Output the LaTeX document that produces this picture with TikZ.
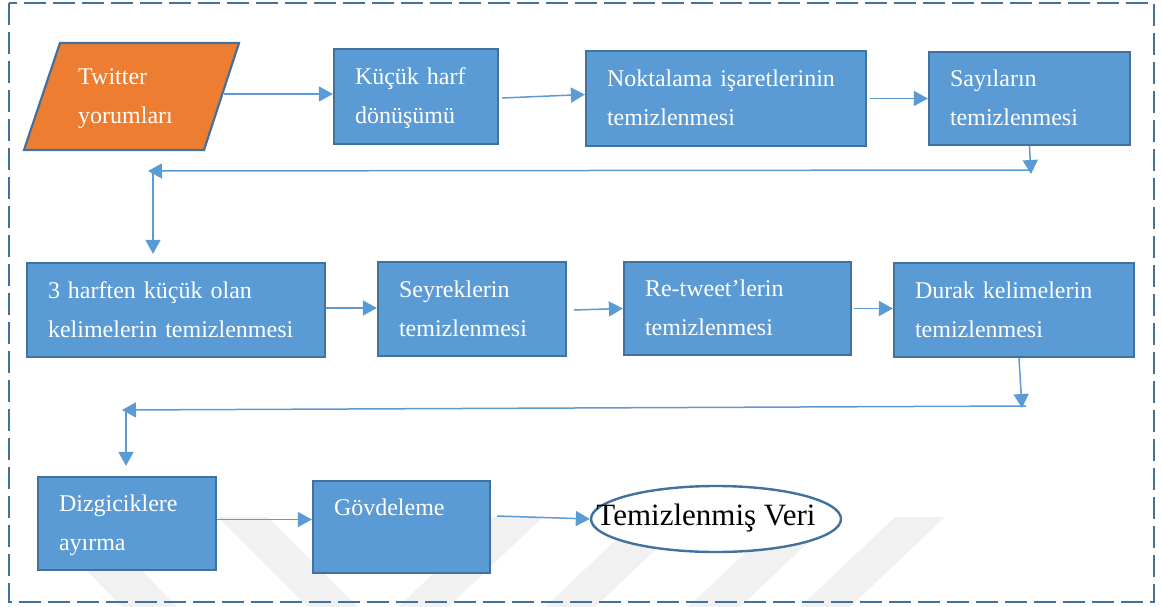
\documentclass[tikz,border=0pt]{standalone}
\usepackage{fontspec}
\setmainfont{Liberation Serif}
\usetikzlibrary{arrows.meta,shapes.geometric,calc}
\definecolor{boxblue}{HTML}{5B9BD5}
\definecolor{edgeblue}{HTML}{41719C}
\definecolor{inputorange}{HTML}{ED7D31}
\definecolor{markgray}{HTML}{F1F1F1}

\begin{document}
\begin{tikzpicture}[x=1pt,y=-1pt,
  boxfont/.style={font=\fontsize{24}{39}\selectfont},
  stepbox/.style={boxfont, draw=edgeblue, line width=2.2pt, fill=boxblue,
    text=white, align=left, inner xsep=21pt, inner ysep=0pt,
    execute at begin node=\strut, execute at end node=\strut},
  arr/.style={draw=boxblue, line width=1.5pt,
    -{Triangle[length=14pt,width=15pt]}},
  outcome/.style={ellipse, draw=edgeblue, line width=2.4pt, fill=white,
    inner sep=0pt},
]
\useasboundingbox (0,0) rectangle (1162,607);

% faint background stripes
\begin{scope}[fill=markgray]
  \fill (35,517) -- (90,517) -- (177,607) -- (122,607) -- cycle;
  \fill (218,517) -- (268,517) -- (358,607) -- (308,607) -- cycle;
  \fill (398,607) -- (448,607) -- (543,517) -- (493,517) -- cycle;
  \fill (545,607) -- (595,607) -- (690,517) -- (640,517) -- cycle;
  \fill (688,607) -- (740,607) -- (835,517) -- (783,517) -- cycle;
  \fill (800,607) -- (850,607) -- (945,517) -- (895,517) -- cycle;
\end{scope}

% dashed outer frame
\draw[edgeblue, line width=2.6pt, dash pattern=on 22pt off 7pt]
  (9,3) rectangle (1154,602);

% input parallelogram
\draw[draw=edgeblue, line width=2.2pt, fill=inputorange]
  (60,43) -- (239,43) -- (204,150) -- (24,150) -- cycle;
\node[boxfont, text=white, align=left, inner sep=0pt, anchor=west,
  text width=140pt,
  execute at begin node=\strut, execute at end node=\strut]
  (tw) at (78,96) {Twitter\\yorumları};
\coordinate (twr) at (224,94);

% first row
\node[stepbox, text width=122pt, minimum height=95pt] (k1) at (416,96.5)
  {Küçük harf\\dönüşümü};
\node[stepbox, text width=238pt, minimum height=95pt] (n2) at (726,98.5)
  {Noktalama işaretlerinin\\temizlenmesi};
\node[stepbox, text width=159pt, minimum height=93pt] (n3) at (1029.5,98.5)
  {Sayıların\\temizlenmesi};

% second row
\node[stepbox, text width=256pt, minimum height=94pt] (b4) at (176,310)
  {3 harften küçük olan\\kelimelerin temizlenmesi};
\node[stepbox, text width=146pt, minimum height=94pt] (b5) at (472,309)
  {Seyreklerin\\temizlenmesi};
\node[stepbox, text width=185pt, minimum height=93pt] (b6) at (737.5,308.5)
  {Re-tweet’lerin\\temizlenmesi};
\node[stepbox, text width=198pt, minimum height=94pt] (b7) at (1014,310)
  {Durak kelimelerin\\temizlenmesi};

% third row
\node[stepbox, text width=136pt, minimum height=93pt] (g8) at (127,523.5)
  {Dizgiciklere\\ayırma};
\node[stepbox, text width=135pt, minimum height=92pt] (g9) at (401.5,527)
  {Gövdeleme\\\mbox{}};
\node[outcome, minimum width=250pt, minimum height=66pt] (ve) at (716,519) {};
\node[font=\fontsize{31}{37}\selectfont, text=black, inner sep=0pt]
  (vetext) at ([xshift=-10pt,yshift=1pt]ve.center) {Temizlenmiş Veri};

% turning points of the return lines
\coordinate (t1) at (1031,172);
\coordinate (t2) at (148,171);
\coordinate (d1) at (153,171);
\coordinate (t3) at (1022,408);
\coordinate (t4) at (122,410);
\coordinate (d2) at (126,410);

% first row connectors
\draw[arr] (twr) -- (twr -| k1.west);
\draw[arr] ([xshift=3pt,yshift=-1.5pt]k1.east) -- ([yshift=4pt]n2.west);
\draw[arr] ([xshift=3pt]n2.east) -- (n3.west);

% return to second row
\draw[arr] (n3.south) -- ([yshift=-2pt]t1);
\draw[arr] ([yshift=2pt]t1) -- (t2);
\draw[arr, shorten >=8pt] (d1) -- (d1 |- b4.north);

% second row connectors
\draw[arr] ([yshift=2pt]b4.east) -- ([yshift=2pt]b4.east -| b5.west);
\draw[arr] ([xshift=7pt,yshift=-1pt]b5.east) -- (b6.west);
\draw[arr] ([xshift=2pt]b6.east) -- (b6.east -| b7.west);

% return to third row
\draw[arr] ([xshift=5pt]b7.south) -- (t3);
\draw[arr] ([xshift=4pt,yshift=2pt]t3) -- (t4);
\draw[arr, shorten >=10pt] (d2) -- (d2 |- g8.north);

% third row connectors
\draw[arr] ([yshift=4pt]g8.east) -- ([yshift=4pt]g8.east -| g9.west);
\draw[arr] ([xshift=6pt,yshift=11pt]g9.east) -- (ve.west);
\end{tikzpicture}
\end{document}
